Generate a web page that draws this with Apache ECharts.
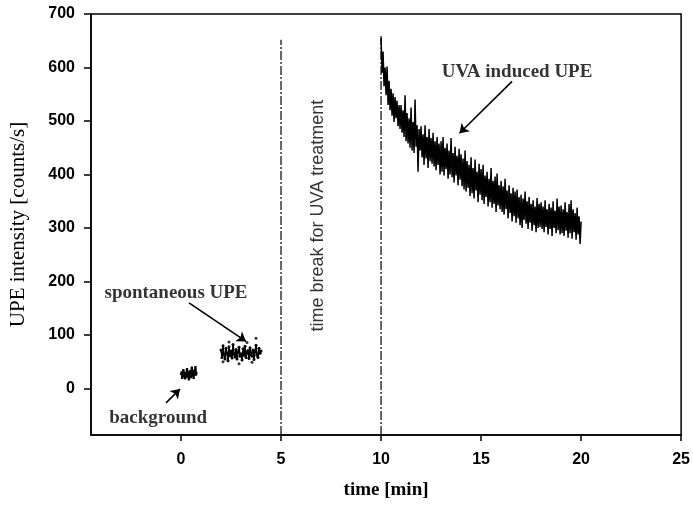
<!DOCTYPE html>
<html>
<head>
<meta charset="utf-8">
<script src="https://cdn.jsdelivr.net/npm/echarts@6/dist/echarts.min.js"></script>
<style>
html,body{margin:0;padding:0;background:#fff;}
#c{width:693px;height:505px;}
</style>
</head>
<body>
<div id="c"></div>
<script>
// ---- data ----
var xTicks = [0, 5, 10, 15, 20, 25];
var yTicks = [0, 100, 200, 300, 400, 500, 600, 700];

// background measurement (time in min, counts/s)
var bgStart = 0.0, bgStep = 0.03;
var bgValues = [25, 32, 18, 28, 36, 21, 27, 17, 31, 24, 38, 20, 29, 15, 30, 34, 19, 26, 41, 22, 30, 18, 35, 27, 42, 24, 31];

// spontaneous UPE
var spStart = 2.0, spStep = 0.05;
var spValues = [72, 58, 80, 63, 55, 75, 66, 52, 78, 61, 70, 57, 82, 64, 59, 73, 55, 68, 77, 60,
                65, 53, 74, 62, 79, 58, 67, 71, 56, 76, 63, 60, 72, 54, 69, 81, 62, 58, 75, 66, 70];
var spOutliers = [[2.4, 87], [3.75, 94], [2.9, 46], [3.3, 86], [2.1, 50], [3.55, 49]];

// UVA induced UPE (one row per minute, 0.05 min sampling)
var uvaStart = 10.0, uvaStep = 0.05;
var uvaValues = [
 655, 590, 630, 565, 600, 548, 602, 530, 575, 520, 560, 510, 552, 498, 545, 505, 538, 490, 530, 485,
 530, 478, 520, 470, 548, 462, 515, 458, 505, 450, 525, 445, 498, 440, 540, 452, 492, 405, 485, 445,
 490, 432, 475, 418, 492, 430, 470, 412, 485, 425, 468, 420, 478, 415, 462, 408, 470, 418, 458, 400,
 462, 405, 470, 398, 450, 410, 458, 392, 445, 400, 468, 395, 440, 385, 452, 398, 435, 380, 448, 390,
 438, 378, 430, 372, 445, 368, 425, 375, 418, 360, 432, 365, 412, 355, 428, 370, 405, 348, 420, 362,
 410, 352, 418, 345, 398, 358, 405, 340, 392, 348, 412, 338, 388, 345, 396, 330, 402, 342, 380, 335,
 388, 330, 378, 325, 392, 335, 370, 318, 380, 328, 365, 312, 375, 322, 368, 310, 372, 318, 358, 305,
 362, 300, 355, 315, 368, 308, 350, 298, 358, 310, 345, 295, 352, 305, 340, 292, 356, 300, 345, 302,
 348, 298, 340, 292, 352, 302, 335, 288, 345, 298, 338, 285, 350, 300, 332, 290, 355, 296, 340, 288,
 342, 290, 335, 285, 348, 295, 330, 282, 345, 290, 352, 280, 335, 292, 328, 278, 338, 288, 322, 270,
 312
];

// vertical break lines
var breakTimes = [5, 10];
var breakTops = [652, 662];

// annotation texts
var annotTexts = ['spontaneous UPE', 'background', 'UVA induced UPE', 'time break for UVA treatment'];

// ---- build series data ----
function seq(start, step, vals) {
  return vals.map(function (v, i) { return [+(start + i * step).toFixed(3), v]; });
}
var bgData = seq(bgStart, bgStep, bgValues);
var spData = seq(spStart, spStep, spValues);
var uvaData = seq(uvaStart, uvaStep, uvaValues);

var X_MIN = -4.5, X_MAX = 25, Y_MIN = -87, Y_MAX = 700;

var serifFont = '"Liberation Serif","DejaVu Serif",serif';
var sansFont = '"Liberation Sans",Arial,sans-serif';

var breakSeries = breakTimes.map(function (t, i) {
  return {
    type: 'line', data: [[t, Y_MIN], [t, breakTops[i]]], symbol: 'none', silent: true,
    lineStyle: { color: '#000', width: 1.2, type: [9, 2, 2, 2] }, z: 1
  };
});

function textPoint(x, y, text, extra) {
  var lab = Object.assign({
    show: true, position: 'inside', formatter: text, color: '#000',
    textBorderWidth: 0, fontFamily: serifFont, fontWeight: 'bold', fontSize: 19
  }, extra || {});
  return { value: [x, y], label: lab };
}

var option = {
  animation: false,
  backgroundColor: '#fff',
  grid: { left: 90, right: 10, top: 14, bottom: 66, show: true, borderColor: '#000', borderWidth: 1.5, backgroundColor: 'transparent' },
  xAxis: {
    type: 'value', min: X_MIN, max: X_MAX,
    name: 'time [min]', nameLocation: 'middle', nameGap: 46,
    nameTextStyle: { fontFamily: serifFont, fontWeight: 'bold', fontSize: 19, color: '#000' },
    axisLine: { show: true, onZero: false, lineStyle: { color: '#000', width: 1.5 } },
    axisTick: { show: true, inside: false, length: 6, lineStyle: { color: '#000', width: 1.5 }, customValues: xTicks },
    axisLabel: { color: '#000', fontFamily: sansFont, fontWeight: 'bold', fontSize: 16, margin: 17, customValues: xTicks },
    splitLine: { show: false }
  },
  yAxis: {
    type: 'value', min: Y_MIN, max: Y_MAX,
    name: 'UPE intensity [counts/s]', nameLocation: 'middle', nameGap: 62,
    nameTextStyle: { fontFamily: serifFont, fontSize: 21, color: '#000' },
    axisLine: { show: true, onZero: false, lineStyle: { color: '#000', width: 1.5 } },
    axisTick: { show: true, inside: false, length: 7, lineStyle: { color: '#000', width: 1.5 }, customValues: yTicks },
    axisLabel: { color: '#000', fontFamily: sansFont, fontWeight: 'bold', fontSize: 16, margin: 16, customValues: yTicks },
    splitLine: { show: false }
  },
  series: breakSeries.concat([
    { type: 'line', data: bgData, symbol: 'none', lineStyle: { color: '#000', width: 2.2 }, z: 3 },
    { type: 'line', data: spData, symbol: 'circle', symbolSize: 3, itemStyle: { color: '#000' }, lineStyle: { color: '#000', width: 1.6 }, z: 3 },
    { type: 'scatter', data: spOutliers, symbolSize: 3, itemStyle: { color: '#000' }, z: 3 },
    { type: 'line', data: uvaData, symbol: 'none', lineStyle: { color: '#000', width: 1.5 }, z: 3 },
    {
      type: 'lines', coordinateSystem: 'cartesian2d', silent: true,
      symbol: ['none', 'arrow'], symbolSize: 9,
      lineStyle: { color: '#000', width: 1.6, opacity: 1 },
      data: [
        { coords: [[0.4, 160], [3.25, 88]] },
        { coords: [[-0.75, -27], [-0.05, -1]] },
        { coords: [[16.55, 574], [13.92, 477]] }
      ], z: 4
    },
    {
      type: 'scatter', symbolSize: 0, silent: true, z: 5,
      itemStyle: { color: 'transparent' },
      data: [
        textPoint(-0.25, 179, annotTexts[0]),
        textPoint(-1.14, -56, annotTexts[1]),
        textPoint(16.8, 591, annotTexts[2]),
        textPoint(6.86, 323, annotTexts[3], { fontFamily: sansFont, fontWeight: 'normal', fontSize: 18, rotate: 90 })
      ]
    }
  ])
};

var chart = echarts.init(document.getElementById('c'), null, { renderer: 'canvas' });
chart.setOption(option);
</script>
</body>
</html>
